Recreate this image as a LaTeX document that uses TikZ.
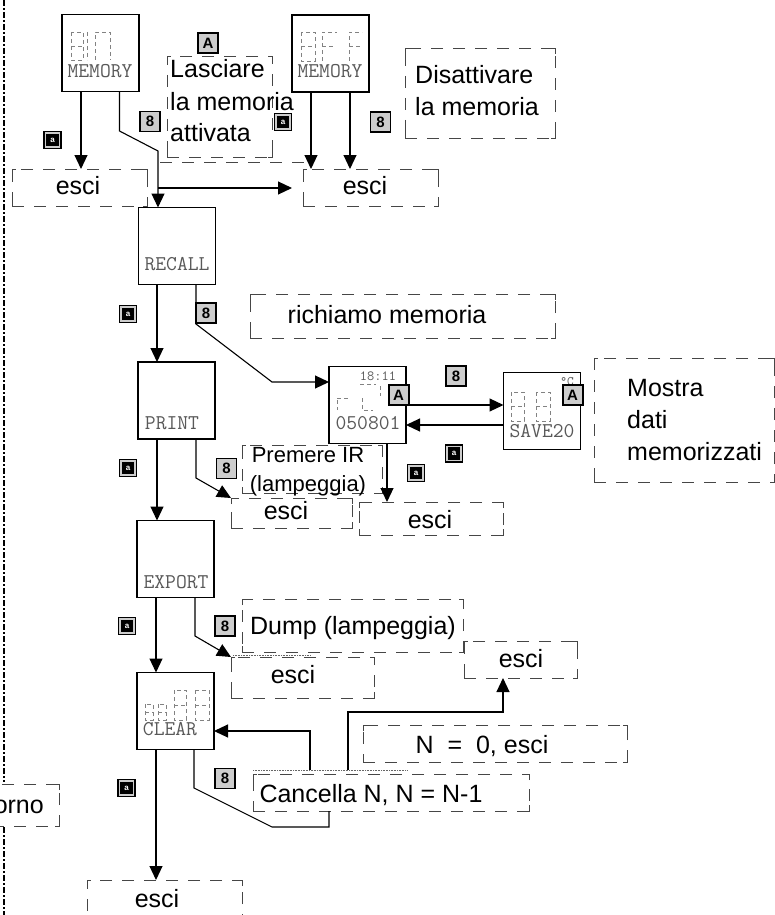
\documentclass[tikz,border=0pt]{standalone}
\usepackage{fontspec}
\setmainfont{Liberation Sans}
\usepackage{xcolor}
\usetikzlibrary{arrows.meta, positioning, calc}
\definecolor{lcdgray}{RGB}{130, 130, 130}
\definecolor{dashgray}{RGB}{70, 70, 70}
\definecolor{keygray}{RGB}{205, 205, 205}
\tikzset{
    screen/.style={rectangle, draw=black, line width=1.6pt, fill=white, minimum width=77pt, minimum height=77pt, inner sep=0pt, outer sep=0pt},
    cornermark/.style={draw=dashgray, line width=0.9pt},
    dashbox/.style={rectangle, draw=dashgray, line width=0.9pt, dash pattern=on 12pt off 10pt, inner sep=0pt, outer sep=0pt,
        append after command={\pgfextra{
            \draw[cornermark] ([yshift=-6pt]\tikzlastnode.north west) -- (\tikzlastnode.north west) -- ([xshift=4pt]\tikzlastnode.north west);
            \draw[cornermark] ([yshift=-6pt]\tikzlastnode.north east) -- (\tikzlastnode.north east) -- ([xshift=-4pt]\tikzlastnode.north east);
            \draw[cornermark] ([yshift=6pt]\tikzlastnode.south west) -- (\tikzlastnode.south west) -- ([xshift=4pt]\tikzlastnode.south west);
            \draw[cornermark] ([yshift=6pt]\tikzlastnode.south east) -- (\tikzlastnode.south east) -- ([xshift=-4pt]\tikzlastnode.south east);
        }}},
    boxtext/.style={anchor=base, inner sep=0pt, font=\fontsize{25}{32}\selectfont, align=left},
    lcdtext/.style={inner sep=0pt, text=black!65, font=\fontsize{21}{21}\ttfamily},
    lcdline/.style={draw=lcdgray, line width=0.7pt, dash pattern=on 4pt off 3pt},
    flow/.style={-{Triangle[width=13pt,length=14pt]}, line width=1.1pt, black},
    plainflow/.style={line width=1.1pt, black},
    keyup/.style={rectangle, draw=black, line width=2pt, fill=keygray, minimum size=20pt, inner sep=0pt, font=\fontsize{15}{15}\bfseries},
    keyset/.style={keyup, line width=1.6pt, font=\fontsize{15}{15}\bfseries},
    keyesc/.style={rectangle, draw=black, line width=1.4pt, double=keygray, double distance=1.4pt, fill=black, text=white, minimum size=14pt, inner sep=0pt, font=\fontsize{8}{8}\bfseries},
}
\newcommand{\lcddigit}[4]{\draw[lcdline] (#1,#2) rectangle ++(#3,#4) (#1,#2+#4/2) -- ++(#3,0);}

\begin{document}
\begin{tikzpicture}[x=1pt, y=-1pt]
    \useasboundingbox (0,0) rectangle (775,915);

    % Left margin line
    \draw[line width=1.4pt, dash pattern=on 6pt off 2pt on 2pt off 2pt] (4,0) -- (4,782);
    \draw[line width=1.4pt, dash pattern=on 6pt off 2pt on 2pt off 2pt] (4,827) -- (4,915);

    % Screens
    \node[screen] (memoryA) at (100.5,53) {};
    \node[screen] (memoryB) at (330.5,53.5) {};
    \node[screen] (recall) at (177,246) {};
    \node[screen] (print) at (176.5,400.5) {};
    \node[screen] (export) at (175.5,559) {};
    \node[screen] (clear) at (175.5,711) {};
    \node[screen] (timebox) at (367.5,405) {};
    \node[screen] (savebox) at (542,411) {};

    % Screen labels
    \node[lcdtext] (memoryAtext) at (100,71) {MEMORY};
    \node[lcdtext] (memoryBtext) at (330,71) {MEMORY};
    \node[lcdtext] (recalltext) at (177,264) {RECALL};
    \node[lcdtext] (printtext) at (172,423) {PRINT};
    \node[lcdtext] (exporttext) at (176,582) {EXPORT};
    \node[lcdtext] (cleartext) at (170,729) {CLEAR};
    \node[lcdtext] (datetext) at (368,423) {050801};
    \node[lcdtext, font=\fontsize{14}{14}\ttfamily] (clocktext) at (378,376) {18:11};
    \node[lcdtext, font=\fontsize{13}{13}\ttfamily] (degtext) at (567,382) {°C};
    \node[lcdtext] (savetext) at (542,431) {SAVE20};

    % LCD digits
    \lcddigit{71}{32}{12}{28}
    \draw[lcdline] (87,32) -- (87,60);
    \draw[lcdline] (95,60) -- (95,32) -- (110,32) -- (110,60);
    \lcddigit{301}{32}{14}{29}
    \draw[lcdline] (322,61) -- (322,32) -- (337,32) (322,46) -- (335,46);
    \draw[lcdline] (349,61) -- (349,32) -- (362,32) (349,46) -- (360,46);
    \draw[lcdline] (337,398) -- (350,398) (337,400) -- (337,410);
    \draw[lcdline] (360,384) -- (376,384) (380,386) -- (380,396) (362,398) -- (362,410) -- (373,410);
    \lcddigit{511}{392}{13}{29}
    \lcddigit{536}{392}{14}{29}
    \lcddigit{174}{690}{12}{30}
    \lcddigit{195}{690}{14}{30}
    \lcddigit{145}{704}{8}{16}
    \lcddigit{158}{704}{8}{16}

    % Dashed text boxes
    \node[dashbox, minimum width=105pt, minimum height=101pt] (lasciare) at (219.5,106.5) {};
    \node[dashbox, minimum width=135pt, minimum height=37pt] (esciA) at (79.5,187.5) {};
    \node[dashbox, minimum width=135pt, minimum height=37pt] (esciB) at (370.5,187.5) {};
    \node[dashbox, minimum width=150pt, minimum height=90pt] (disattiva) at (480,93) {};
    \node[dashbox, minimum width=305pt, minimum height=44pt] (richiamo) at (402.5,316) {};
    \node[dashbox, minimum width=140pt, minimum height=48pt] (premere) at (312,469) {};
    \node[dashbox, minimum width=121pt, minimum height=30pt] (esciC) at (291.5,513) {};
    \node[dashbox, minimum width=144pt, minimum height=33pt] (esciD) at (431,518.5) {};
    \node[dashbox, minimum width=180pt, minimum height=124pt] (mostra) at (684,420) {};
    \node[dashbox, minimum width=221pt, minimum height=53pt] (dump) at (352.5,625.5) {};
    \node[dashbox, minimum width=143pt, minimum height=41pt] (esciE) at (302.5,677.5) {};
    \node[dashbox, minimum width=113pt, minimum height=37pt] (esciF) at (520.5,659.5) {};
    \node[dashbox, minimum width=264pt, minimum height=37pt] (azzero) at (495,743.5) {};
    \node[dashbox, minimum width=276pt, minimum height=37pt] (cancella) at (391,792.5) {};
    \node[dashbox, minimum width=155pt, minimum height=45pt] (esciG) at (164.5,902.5) {};
    \node[dashbox, minimum width=89pt, minimum height=42pt] (giorno) at (14.5,805) {};

    % Box texts
    \node[boxtext, anchor=base west] (lasciaretext) at (170,142) {Lasciare\\la memoria\\attivata};
    \node[boxtext] (esciAtext) at (78,194) {esci};
    \node[boxtext] (esciBtext) at (365,194) {esci};
    \node[boxtext, anchor=base west] (disattivatext) at (415,116) {Disattivare\\la memoria};
    \node[boxtext] (richiamotext) at (387,323) {richiamo memoria};
    \node[boxtext, font=\fontsize{22}{29}\selectfont, align=center] (premeretext) at (308,491) {Premere IR\\(lampeggia)};
    \node[boxtext] (esciCtext) at (286,519) {esci};
    \node[boxtext] (esciDtext) at (430,528) {esci};
    \node[boxtext, anchor=base west] (mostratext) at (627,460) {Mostra\\dati\\memorizzati};
    \node[boxtext] (dumptext) at (353,634) {Dump (lampeggia)};
    \node[boxtext] (esciEtext) at (293,683) {esci};
    \node[boxtext] (esciFtext) at (521,667) {esci};
    \node[boxtext] (azzerotext) at (482,753) {N\ \ =\ \ 0, esci};
    \node[boxtext] (cancellatext) at (371,802) {Cancella N, N = N-1};
    \node[boxtext] (esciGtext) at (157,907) {esci};
    \node[boxtext, anchor=base east] (giornotext) at (44,813) {orno};

    % Connectors
    \draw[flow] ([xshift=-19.5pt]memoryA.south) -- ([xshift=1.5pt]esciA.north);
    \draw[flow] ([xshift=19pt]memoryA.south) -- (119.5,131) -- (158,151) -- ([xshift=-19pt]recall.north);
    \draw[flow] (158,188) -- (292,188);
    \draw[flow] ([xshift=-19.5pt]memoryB.south) -- ([xshift=-59.5pt]esciB.north);
    \draw[flow] ([xshift=19.5pt]memoryB.south) -- ([xshift=-20.5pt]esciB.north);
    \draw[flow] ([xshift=-20pt]recall.south) -- ([xshift=-19.5pt]print.north);
    \draw[flow] ([xshift=19pt]recall.south) -- (196,324) -- (272,382) -- ([yshift=23pt]timebox.west);
    \draw[flow] ([xshift=-19.5pt]print.south) -- ([xshift=-18.5pt]export.north);
    \draw[flow] ([xshift=19.5pt]print.south) -- (196,478) -- (esciC.north west);
    \draw[flow] (timebox.east) -- (timebox.east -| savebox.west);
    \draw[flow] ([yshift=-20pt]savebox.west |- timebox.east) -- ([yshift=-20pt]timebox.east);
    \draw[flow] ([xshift=19.5pt]timebox.south) -- ([xshift=-44pt]esciD.north);
    \draw[flow] ([xshift=-19.5pt]export.south) -- ([xshift=-19.5pt]clear.north);
    \draw[flow] ([xshift=19.5pt]export.south) -- (195,636) -- (esciE.north west);
    \draw[flow] ([xshift=-19.5pt]clear.south) -- ([xshift=-8.5pt]esciG.north);
    \draw[plainflow] ([xshift=-62pt]cancella.south) -- (329,827) -- (272,827) -- (194,788) -- ([xshift=18.5pt]clear.south);
    \draw[flow] ([xshift=-81pt,yshift=4pt]cancella.north) |- ([yshift=-20pt]clear.east);
    \coordinate (bendF) at (503,712);
    \draw[flow] ([xshift=-43pt,yshift=4pt]cancella.north) |- (bendF) -- ([xshift=-17.5pt]esciF.south);

    % Left-over lines
    \draw[dashgray, line width=0.9pt, dash pattern=on 12pt off 10pt] (160,162) -- (305,162) -- (305,169);
    \draw[black!60, line width=0.6pt, densely dotted] (253,770) -- (407,770);
    \draw[black!60, line width=0.6pt, densely dotted] (233,655) -- (310,655);

    % Keys
    \node[keyup] (keyA) at (208,43.5) {A};
    \node[keyup] (keyB) at (398.5,395) {A};
    \node[keyup] (keyC) at (572.5,395) {A};
    \node[keyset] (setA) at (150,121.5) {8};
    \node[keyset] (setB) at (380.5,122) {8};
    \node[keyset] (setC) at (206,313) {8};
    \node[keyset] (setD) at (456,376) {8};
    \node[keyset] (setE) at (226.5,468.5) {8};
    \node[keyset] (setF) at (225,626) {8};
    \node[keyset] (setG) at (225,778.5) {8};
    \node[keyesc] (escA) at (52.5,140) {a};
    \node[keyesc] (escB) at (283,122) {a};
    \node[keyesc] (escC) at (128,314) {a};
    \node[keyesc] (escD) at (128,468) {a};
    \node[keyesc] (escE) at (127,626) {a};
    \node[keyesc] (escF) at (126.5,788) {a};
    \node[keyesc] (escG) at (454,453.5) {a};
    \node[keyesc] (escH) at (416,473) {a};
\end{tikzpicture}
\end{document}
